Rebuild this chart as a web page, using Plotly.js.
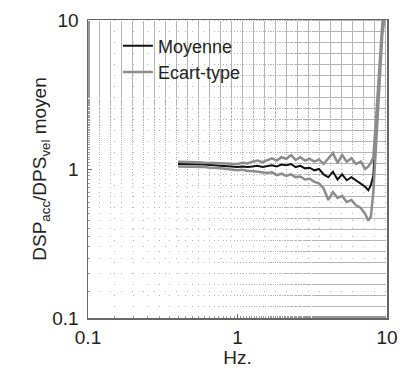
<!DOCTYPE html>
<html><head><meta charset="utf-8">
<script src="https://cdn.plot.ly/plotly-3.0.1.min.js"></script>
<style>html,body{margin:0;padding:0;background:#fff}#chart{width:414px;height:368px}</style>
</head><body><div id="chart"></div>
<script>
const freq = [0.40,0.45,0.50,0.55,0.60,0.66,0.72,0.78,0.85,0.92,1.0,1.08,1.17,1.26,1.36,1.47,1.58,1.70,1.83,1.97,2.12,2.28,2.45,2.63,2.83,3.04,3.27,3.51,3.77,4.05,4.35,4.67,5.01,5.38,5.78,6.2,6.66,7.15,7.5,7.8,8.1,8.4,8.7,9.0,9.3,9.6];
const meanVals = [1.08,1.08,1.075,1.07,1.07,1.065,1.06,1.05,1.05,1.04,1.03,1.04,1.03,1.04,1.05,1.03,1.04,1.06,1.04,1.07,1.06,1.08,1.03,1.05,1.01,1.02,0.98,1.0,0.92,0.88,0.96,0.85,0.92,0.84,0.88,0.84,0.80,0.76,0.72,0.78,0.90,1.6,2.8,5.0,8.5,10.5];
const upperVals = [1.12,1.12,1.11,1.11,1.10,1.10,1.09,1.09,1.09,1.08,1.08,1.10,1.09,1.12,1.14,1.11,1.15,1.18,1.14,1.20,1.17,1.24,1.15,1.20,1.14,1.17,1.12,1.16,1.08,1.18,1.28,1.10,1.24,1.12,1.18,1.08,1.12,1.0,1.04,1.1,1.2,2.0,3.3,5.8,9.5,11];
const lowerVals = [1.04,1.04,1.035,1.03,1.03,1.02,1.02,1.01,1.0,0.99,0.98,0.99,0.97,0.97,0.96,0.95,0.94,0.95,0.91,0.93,0.90,0.92,0.88,0.89,0.85,0.86,0.82,0.80,0.74,0.62,0.70,0.64,0.66,0.60,0.62,0.57,0.55,0.50,0.45,0.48,0.70,1.3,2.4,4.5,8,10];
const seriesNames = ['Moyenne','Ecart-type'];
const xTicks = [0.1,1,10], xTickText = ['0.1','1','10'];
const yTicks = [0.1,1,10], yTickText = ['0.1','1','10'];

const gray = '#8c8c8c';
const grid = '#b4b4b4';
const traces = [
  {x: freq, y: meanVals, name: seriesNames[0], mode:'lines', line:{color:'#111', width:2}},
  {x: freq, y: upperVals, name: seriesNames[1], mode:'lines', line:{color:gray, width:2.5}, legendgroup:'sd'},
  {x: freq, y: lowerVals, name: seriesNames[1], mode:'lines', line:{color:gray, width:2.5}, legendgroup:'sd', showlegend:false}
];
const ax = {
  type:'log', showline:true, mirror:true, linecolor:'#666', linewidth:1.5,
  ticks:'inside', ticklen:4, tickcolor:'#666',
  showgrid:true, gridcolor:grid, gridwidth:1, griddash:'1px,10px',
  minor:{showgrid:true, gridcolor:grid, griddash:'1px,10px', ticks:'inside', ticklen:2, tickcolor:'#999'},
  zeroline:false, tickfont:{family:'Liberation Sans, Arial', size:19, color:'#222'}
};
const layout = {
  width:414, height:368, margin:{l:88, r:27, t:20, b:50},
  paper_bgcolor:'#fff', plot_bgcolor:'#fff', showlegend:true,
  font:{family:'Liberation Sans, Arial', color:'#222'},
  xaxis: Object.assign({}, ax, {range:[-1,1], tickvals:xTicks, ticktext:xTickText, ticklabelstandoff:2,
    title:{text:'Hz.', font:{size:19}, standoff:9}}),
  yaxis: Object.assign({}, ax, {range:[-1,1], tickvals:yTicks, ticktext:yTickText, ticklabelstandoff:4,
    title:{text:'DSP<sub>acc</sub>/DPS<sub>vel</sub> moyen', font:{size:19}, standoff:0}}),
  legend:{x:0.1, y:0.975, xanchor:'left', yanchor:'top', bgcolor:'rgba(0,0,0,0)',
    font:{size:18, color:'#222'}, tracegroupgap:0, itemwidth:30}
};
Plotly.newPlot('chart', traces, layout, {displayModeBar:false, staticPlot:true});
</script></body></html>
